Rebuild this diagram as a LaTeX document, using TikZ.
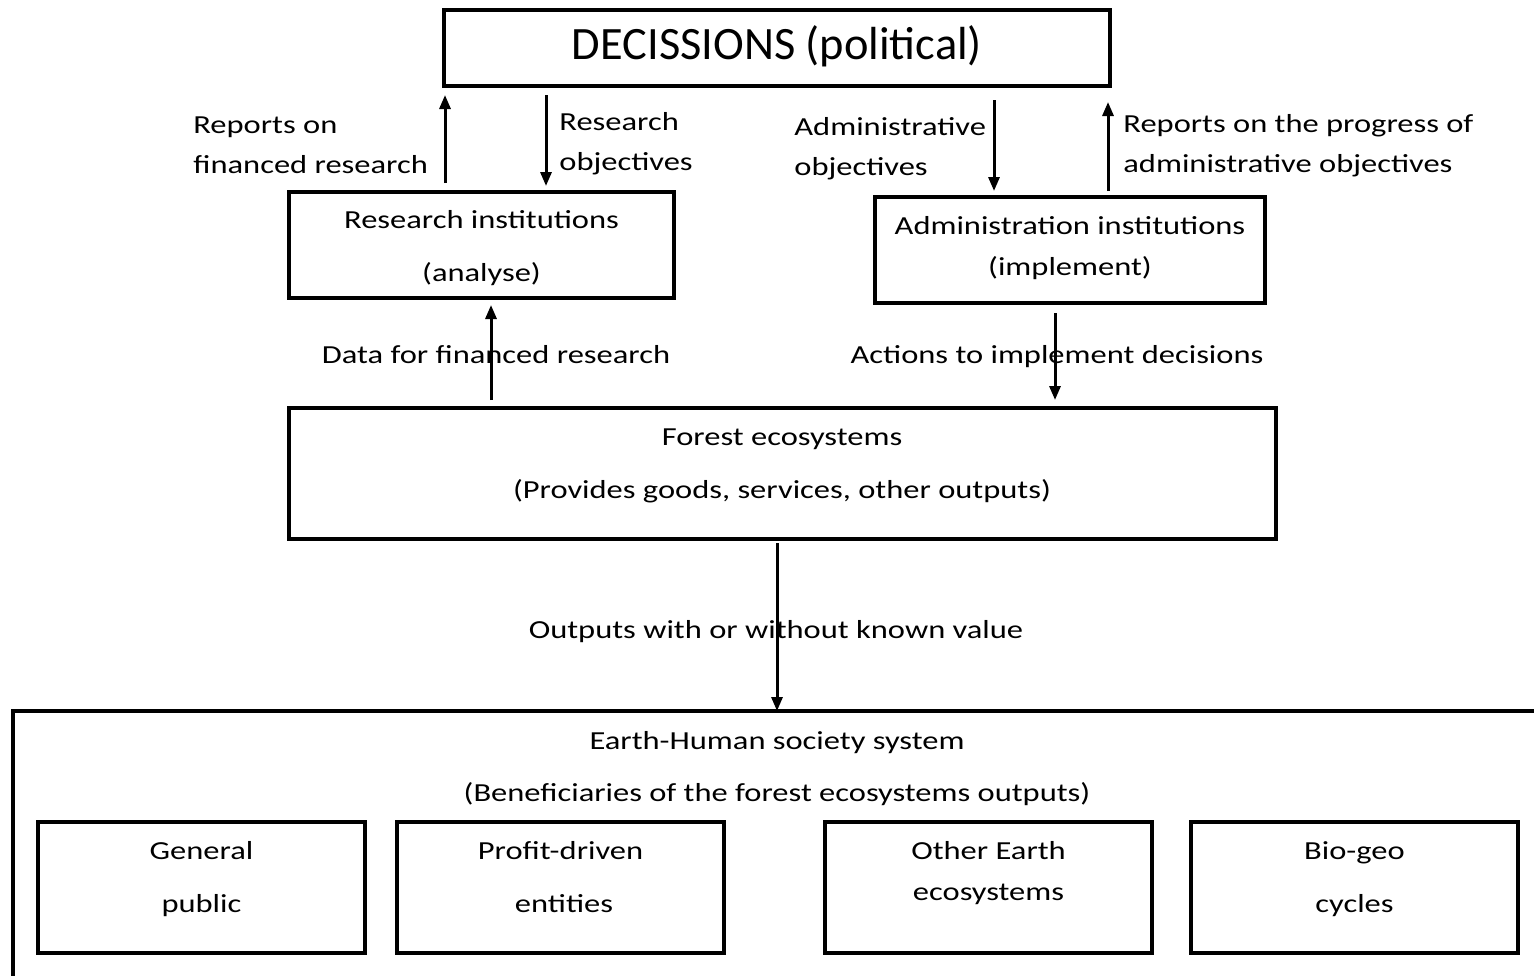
\documentclass[tikz,border=0pt]{standalone}
\usepackage{fontspec}
\setmainfont{Carlito}
\newfontfamily\widefont[FakeStretch=1.25]{Carlito}
\usetikzlibrary{arrows.meta,calc}
\begin{document}
\begin{tikzpicture}[x=0.5pt,y=-0.5pt,
  box/.style={draw,line width=2pt,inner sep=0pt,outer sep=0pt},
  lbl/.style={font=\widefont\fontsize{13}{20}\selectfont,inner sep=0pt},
  one/.style={lbl,text height=9.5pt,text depth=3pt,yshift=-1pt},
  arr/.style={line width=1.5pt,-{Triangle[length=7pt,width=5.5pt]}}]
\useasboundingbox (0,0) rectangle (1534,975);
\clip (0,0) rectangle (1534,975);
% boxes
\node[box,minimum width=333pt,minimum height=38pt] (dec) at (777,48) {};
\node[inner sep=0pt,font=\fontsize{23.2}{28}\selectfont] (dect) at (777,46) {DECISSIONS (political)};
\node[box,minimum width=192.5pt,minimum height=53pt] (res) at (481.5,245) {};
\node[one] (res1) at (481.5,220) {Research institutions};
\node[one] (res2) at (481.5,273) {(analyse)};
\node[box,minimum width=195pt,minimum height=53pt] (adm) at (1070,250) {};
\node[one] (adm1) at (1070,226) {Administration institutions};
\node[one] (adm2) at (1070,267) {(implement)};
\node[box,minimum width=493.5pt,minimum height=65.5pt] (for) at (782.5,473.5) {};
\node[one] (for1) at (782,437) {Forest ecosystems};
\node[one] (for2) at (782,490) {(Provides goods, services, other outputs)};
\node[box,minimum width=768.5pt,minimum height=144.5pt] (ear) at (781.5,855.5) {};
\node[one] (ear1) at (777,741) {Earth-Human society system};
\node[one] (ear2) at (777,793) {(Beneficiaries of the forest ecosystems outputs)};
\node[box,minimum width=163.5pt,minimum height=65.5pt] (gp) at (201.5,887.5) {};
\node[one] (gp1) at (201.5,851) {General};
\node[one] (gp2) at (201.5,904) {public};
\node[box,minimum width=163.5pt,minimum height=65.5pt] (pd) at (560.5,887.5) {};
\node[one] (pd1) at (560.5,851) {Profit-driven};
\node[one] (pd2) at (564,904) {entities};
\node[box,minimum width=163.5pt,minimum height=65.5pt] (oe) at (988.5,887.5) {};
\node[one] (oe1) at (988.5,851) {Other Earth};
\node[one] (oe2) at (988.5,892) {ecosystems};
\node[box,minimum width=163.5pt,minimum height=65.5pt] (bg) at (1354.5,887.5) {};
\node[one] (bg1) at (1354.5,851) {Bio-geo};
\node[one] (bg2) at (1354.5,904) {cycles};
% labels
\node[lbl,anchor=west,align=left] (l1) at (193,145) {Reports on\\financed research};
\node[lbl,anchor=west,align=left] (l2) at (559,144) {Research\\objectives};
\node[lbl,anchor=west,align=left] (l3) at (794,149) {Administrative\\objectives};
\node[lbl,anchor=west,align=left] (l4) at (1123,146) {Reports on the progress of\\administrative objectives};
\node[one] (l5) at (496,355) {Data for financed research};
\node[one] (l6) at (1057,355) {Actions to implement decisions};
\node[one] (l7) at (776,630) {Outputs with or without known value};
% arrows
\draw[arr] ($(res.north west)+(156,-9)$) -- ($(res.north west |- dec.south)+(156,9)$);
\draw[arr] ($(res.north west |- dec.south)+(257,9)$) -- ($(res.north west)+(257,-6)$);
\draw[arr] ($(adm.north west |- dec.south)+(119,14)$) -- ($(adm.north west)+(119,-6)$);
\draw[arr] ($(adm.north west)+(233,-6)$) -- ($(adm.north west |- dec.south)+(233,16)$);
\draw[arr] ($(for.north west -| res.west)+(202,-8)$) -- ($(res.south west)+(202,7)$);
\draw[arr] ($(adm.south west)+(180,10)$) -- ($(adm.south west |- for.north)+(180,-8)$);
\draw[arr] ($(for.south west)+(488,4)$) -- ($(for.south west |- ear.north)+(488,0)$);
\end{tikzpicture}
\end{document}
